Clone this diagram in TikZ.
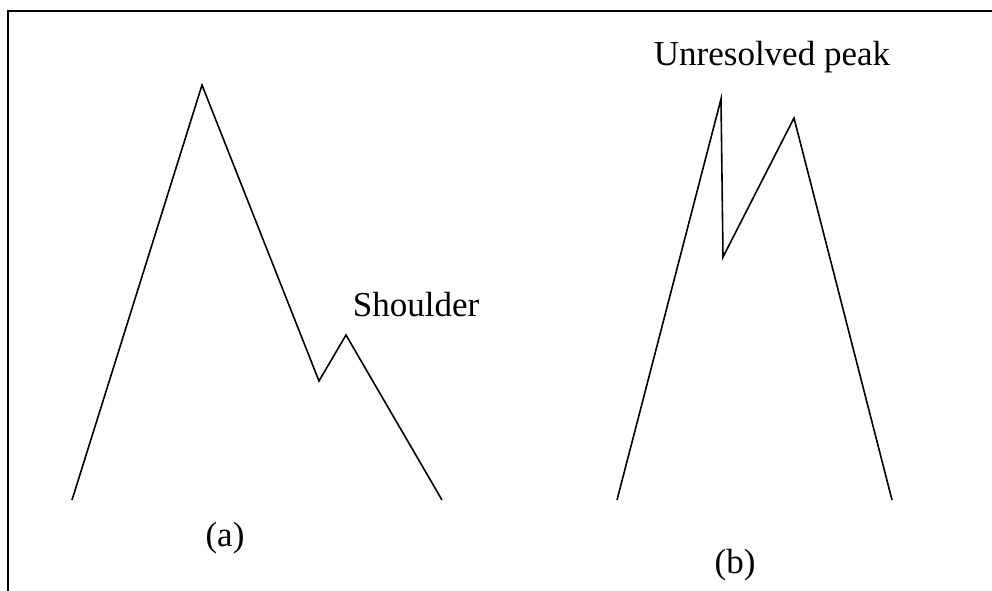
\documentclass[tikz,border=0pt]{standalone}
\usepackage{fontspec}
\setmainfont{Liberation Serif}
\begin{document}
\begin{tikzpicture}[x=1pt,y=-1pt,
  trace/.style={line width=1.6pt,line join=miter},
  frame/.style={line width=2.4pt},
  lbl/.style={inner sep=0pt,anchor=base,font=\fontsize{35}{42}\selectfont}]
\useasboundingbox (0,0) rectangle (992,590);
% frame (top and left edges)
\coordinate (fb) at (8,591);
\coordinate (fc) at (8,11);
\coordinate (fr) at (993,11);
\draw[frame] (fb) -- (fc) -- (fr);
% (a) peak with shoulder
\coordinate (a0) at (72,500);
\coordinate (a1) at (202,85);
\coordinate (a2) at (319,381);
\coordinate (a3) at (346,335);
\coordinate (a4) at (442,500);
\draw[trace] (a0) -- (a1) -- (a2) -- (a3) -- (a4);
% (b) unresolved peak
\coordinate (b0) at (617,500);
\coordinate (b1) at (721,99);
\coordinate (b2) at (723,257);
\coordinate (b3) at (794,118);
\coordinate (b4) at (892,500);
\draw[trace] (b0) -- (b1) -- (b2) -- (b3) -- (b4);
% labels
\node[lbl] (shoulder) at (416,316) {Shoulder};
\node[lbl] (unres) at (772,65) {Unresolved peak};
\node[lbl] (la) at (225,546) {(a)};
\node[lbl] (lb) at (735,573) {(b)};
\end{tikzpicture}
\end{document}
